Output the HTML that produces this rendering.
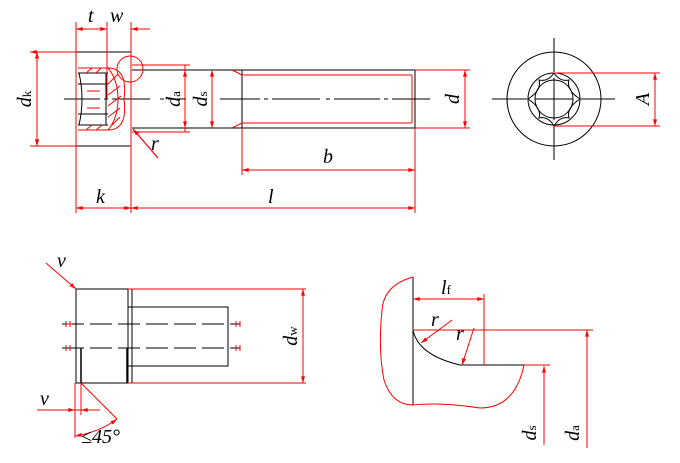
<!DOCTYPE html>
<html><head><style>html,body{margin:0;padding:0;background:#fff}svg{display:block}
text{font-family:"Liberation Serif",serif;font-style:italic;font-size:20px}</style></head>
<body>
<svg width="680" height="463" viewBox="0 0 680 463" xmlns="http://www.w3.org/2000/svg">
<defs>
<marker id="a" viewBox="0 0 10 6" refX="10" refY="3" markerWidth="8" markerHeight="4" orient="auto-start-reverse"><path d="M0,0L10,3L0,6z" fill="#f00"/></marker>
</defs>
<g fill="none" stroke="#000" stroke-width="1">
<!-- head -->
<rect x="76" y="52" width="55" height="94"/>
<!-- shank -->
<path d="M132,70H415M132,128H415M242,70V128M415,70V128"/>
<path d="M64,99H100M104,99H108M112,99H150M160,99H164M168,99H186M220,99H260M264,99H268M272,99H320M326,99H330M334,99H380M384,99H388M392,99H430"/>
<!-- socket -->
<path d="M78,73H108M78,84H108M78,114H108M78,125H108M106,73V125"/>
<path d="M79,73Q85,99 79,125"/>
<!-- end view -->
<circle cx="554" cy="99" r="47"/>
<circle cx="554" cy="99" r="26"/>
<circle cx="554" cy="99" r="19"/>
<path d="M554,38V72M554,126V160M492,99H527M581,99H615M554,78V120M535,99H573"/>
<path d="M554,73Q560,82 569,80Q566,90 580,99Q566,108 569,118Q560,116 554,126Q548,116 539,118Q542,108 528,99Q542,90 539,80Q548,82 554,73"/>
<!-- bottom left -->
<rect x="76" y="289" width="52" height="94"/>
<path d="M128,307H228V366H128M132,289V383"/>
<path d="M62,324H240M62,348H240" stroke-dasharray="22,6"/>
<path d="M81,348V383M127,348V383" stroke-width="1.5"/>
<!-- bottom right -->
<path d="M413,277V405M413,330Q418,355 460,365H524M413,330"/>
</g>
<g fill="none" stroke="#f00" stroke-width="1">
<!-- head hatch -->
<path d="M78,68H108Q128,68 124,99Q128,130 108,130H78" />
<path d="M108,68Q118,80 118,99Q118,118 108,130"/>
<path d="M86,73L92,68M96,73L101,68M108,84L118,74M108,95L120,86M108,106L121,96M108,117L120,108M112,125L120,117M86,130L92,125M96,130L102,125"/>
<path d="M87,91H100M87,108H100"/>
<circle cx="130" cy="69" r="13"/>
<path d="M30,52H76M30,146H76M37,52V146" marker-start="url(#a)" marker-end="url(#a)"/>
<path d="M37,52V146" marker-start="url(#a)" marker-end="url(#a)"/>
<path d="M76,22V213M107,22V99M131,22V213"/>
<path d="M76,29H107" marker-start="url(#a)" marker-end="url(#a)"/>
<path d="M131,29H150" marker-start="url(#a)"/>
<path d="M76,208H131" marker-start="url(#a)" marker-end="url(#a)"/>
<path d="M131,208H415" marker-start="url(#a)" marker-end="url(#a)"/>
<path d="M415,128V213M242,128V175"/>
<path d="M242,170H415" marker-start="url(#a)" marker-end="url(#a)"/>
<path d="M133,129L158,158" />
<path d="M158,158L133,129" marker-end="url(#a)"/>
<path d="M132,65H190M132,132H190M185,65V132" />
<path d="M185,70V128" marker-start="url(#a)" marker-end="url(#a)"/>
<path d="M212,70V128" marker-start="url(#a)" marker-end="url(#a)"/>
<path d="M242,75H412M242,123H412M232,70L242,75M232,128L242,123M412,75V123"/>
<path d="M415,70H470M415,128H470"/>
<path d="M465,70V128" marker-start="url(#a)" marker-end="url(#a)"/>
<path d="M554,73H660M554,126H660"/>
<path d="M655,73V126" marker-start="url(#a)" marker-end="url(#a)"/>
<!-- bottom left -->
<path d="M46,263L76,289" marker-end="url(#a)"/>
<path d="M128,289H306M128,383H306"/>
<path d="M303,289V383" marker-start="url(#a)" marker-end="url(#a)"/>
<path d="M67,324H72M66,321V327M70,321V327M66,345V351M70,345V351M236,321V327M240,321V327M236,345V351M240,345V351"/>
<path d="M81,383L117,419M75,383V438M81,383V415"/>
<path d="M37,410H98"/>
<path d="M60,410H75" marker-end="url(#a)"/><path d="M100,410H81" marker-end="url(#a)"/>
<path d="M75,436Q100,432 117,419" marker-start="url(#a)" marker-end="url(#a)"/>
<!-- bottom right -->
<path d="M413,277Q384,285 382,310Q378,350 384,380Q392,405 413,405Q440,402 480,408Q515,408 524,365"/>
<path d="M413,299H484" marker-start="url(#a)" marker-end="url(#a)"/>
<path d="M484,294V365M413,330H593M524,365H550"/>
<path d="M452,320L421,343" marker-end="url(#a)"/>
<path d="M474,328L462,365" marker-end="url(#a)"/>
<path d="M544,445V366" marker-end="url(#a)"/>
<path d="M587,448V330" marker-end="url(#a)"/>
</g>
<g fill="#000">
<text x="88" y="22">t</text><text x="110" y="22">w</text>
<text x="96" y="203">k</text><text x="268" y="203">l</text><text x="323" y="163">b</text>
<text x="151" y="150" font-size="18">r</text>
<text transform="translate(31,99) rotate(-90)" text-anchor="middle">d<tspan font-size="13" font-style="normal">k</tspan></text>
<text transform="translate(180,99) rotate(-90)" text-anchor="middle">d<tspan font-size="13" font-style="normal">a</tspan></text>
<text transform="translate(207,99) rotate(-90)" text-anchor="middle">d<tspan font-size="13" font-style="normal">s</tspan></text>
<text transform="translate(459,99) rotate(-90)" text-anchor="middle">d</text>
<text transform="translate(649,99) rotate(-90)" text-anchor="middle">A</text>
<text x="57" y="267">v</text><text x="40" y="405">v</text>
<text x="81" y="443" font-size="14" font-style="normal">≤45°</text>
<text transform="translate(297,336) rotate(-90)" text-anchor="middle">d<tspan font-size="13" font-style="normal">w</tspan></text>
<text x="441" y="294">l<tspan font-size="13" font-style="normal">f</tspan></text>
<text x="431" y="326" font-size="18">r</text><text x="456" y="340" font-size="18">r</text>
<text transform="translate(536,433) rotate(-90)" text-anchor="middle">d<tspan font-size="13" font-style="normal">s</tspan></text>
<text transform="translate(579,433) rotate(-90)" text-anchor="middle">d<tspan font-size="13" font-style="normal">a</tspan></text>
</g>
</svg>
</body></html>
